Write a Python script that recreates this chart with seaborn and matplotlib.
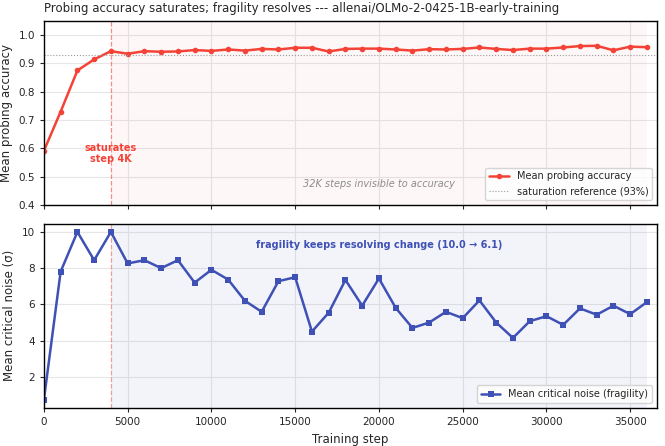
import numpy as np
import pandas as pd
import matplotlib
matplotlib.use('Agg')
import matplotlib.pyplot as plt
import seaborn as sns

STEPS = list(range(0, 37000, 1000))
ACCURACY = [0.591, 0.729, 0.874, 0.913, 0.942, 0.933, 0.942, 0.940, 0.941, 0.946,
            0.943, 0.948, 0.944, 0.950, 0.948, 0.954, 0.954, 0.941, 0.950, 0.951,
            0.951, 0.948, 0.944, 0.949, 0.948, 0.950, 0.955, 0.950, 0.946, 0.951,
            0.951, 0.955, 0.960, 0.961, 0.945, 0.958, 0.956]
NOISE = [0.74, 7.81, 10.0, 8.44, 10.0, 8.26, 8.44, 8.0, 8.44, 7.2,
         7.91, 7.37, 6.2, 5.59, 7.28, 7.5, 4.5, 5.54, 7.35, 5.93,
         7.43, 5.81, 4.70, 5.0, 5.59, 5.24, 6.22, 5.0, 4.15, 5.07,
         5.35, 4.87, 5.78, 5.43, 5.93, 5.46, 6.13]
SAT_STEP = 4000
SAT_REF = 0.93

RED = '#F44336'
BLUE = '#3F51B5'

sns.set_style('whitegrid', {'axes.edgecolor': 'black', 'grid.color': '#e6e6e6'})
plt.rcParams['font.family'] = ['DejaVu Sans']

df = pd.DataFrame({'step': STEPS, 'acc': ACCURACY, 'noise': NOISE})

fig, (ax1, ax2) = plt.subplots(2, 1, figsize=(6.65, 4.46), dpi=100, sharex=True)
fig.subplots_adjust(left=0.066, right=0.988, top=0.954, bottom=0.085, hspace=0.1)

# top: accuracy
ax1.axvspan(SAT_STEP, STEPS[-1], color=RED, alpha=0.04, lw=0)
ax1.axvline(SAT_STEP, color=RED, ls='--', lw=0.9, alpha=0.6)
sns.lineplot(data=df, x='step', y='acc', marker='o', markersize=4, markeredgewidth=0,
             color=RED, lw=1.8, ax=ax1, label='Mean probing accuracy')
ax1.axhline(SAT_REF, color='0.6', ls=':', lw=0.8, label='saturation reference (93%)')
ax1.set_ylim(0.4, 1.05)
ax1.set_ylabel('Mean probing accuracy', fontsize=8.5)
ax1.set_xlabel('')
ax1.text(SAT_STEP, 0.582, 'saturates\nstep 4K', color=RED, fontsize=7, fontweight='bold',
         ha='center', va='center')
ax1.text(20000, 0.474, '32K steps invisible to accuracy', color='0.55', fontsize=7,
         style='italic', ha='center', va='center')
ax1.legend(loc='lower right', fontsize=7, frameon=True)
ax1.set_title('Probing accuracy saturates; fragility resolves --- allenai/OLMo-2-0425-1B-early-training',
              loc='left', fontsize=8.5)

# bottom: fragility
ax2.axvspan(SAT_STEP, STEPS[-1], color=BLUE, alpha=0.06, lw=0)
ax2.axvline(SAT_STEP, color=RED, ls='--', lw=0.9, alpha=0.5)
sns.lineplot(data=df, x='step', y='noise', marker='s', markersize=4, markeredgewidth=0,
             color=BLUE, lw=1.8, ax=ax2, label='Mean critical noise (fragility)')
ax2.set_ylabel('Mean critical noise (σ)', fontsize=8.5)
ax2.set_xlabel('Training step', fontsize=8.5)
ax2.text(20000, 9.28, f'fragility keeps resolving change ({NOISE[4]:.1f} → {NOISE[-1]:.1f})',
         color=BLUE, fontsize=7, fontweight='bold', ha='center', va='center')
ax2.legend(loc='lower right', fontsize=7, frameon=True)

ax2.set_xlim(0, 36600)
for ax in (ax1, ax2):
    ax.tick_params(labelsize=7.5, length=3, bottom=True, left=True)
    for s in ax.spines.values():
        s.set_linewidth(1.0)

fig.savefig('out.png', dpi=100)
